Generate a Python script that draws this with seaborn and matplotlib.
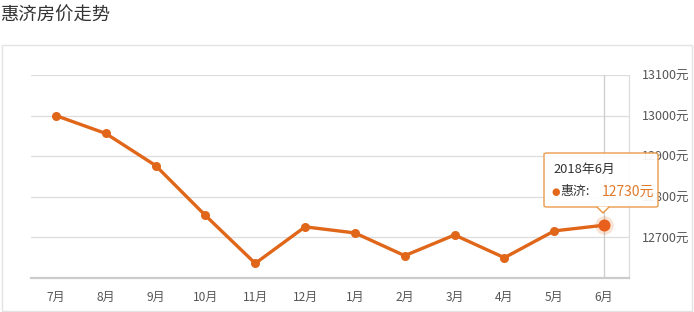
import matplotlib
matplotlib.use("Agg")
import matplotlib.pyplot as plt
import seaborn as sns
import pandas as pd
from matplotlib.patches import Rectangle, FancyBboxPatch, Polygon

months = ["7月", "8月", "9月", "10月", "11月", "12月", "1月", "2月", "3月", "4月", "5月", "6月"]
prices = [13000, 12956, 12877, 12754, 12636, 12726, 12711, 12655, 12706, 12650, 12716, 12730]
yticks = [12700, 12800, 12900, 13000, 13100]
title = "惠济房价走势"
tip_date = "2018年6月"
tip_name = "惠济:"
tip_value = "12730元"

sns.set_style("white")
plt.rcParams['font.family'] = ['Noto Sans CJK SC', 'DejaVu Sans']

W, H = 694, 312
fig = plt.figure(figsize=(W / 100, H / 100), dpi=100)

def fx(px):
    return px / W

def fy(py):
    return 1 - py / H

# outer container
fig.patches.append(Rectangle((fx(2), fy(311)), fx(690), (311 - 45) / H, transform=fig.transFigure,
                             fill=False, edgecolor="#e3e3e3", linewidth=1.0))
fig.text(fx(0), fy(16), title, fontsize=13.2, color="#333333", va="center", ha="left")

ax = fig.add_axes([fx(31), fy(278), fx(629 - 31), (278 - 75) / H])
df = pd.DataFrame({"month": months, "price": prices})
orange = "#E0661A"
sns.lineplot(data=df, x="month", y="price", sort=False, color=orange, linewidth=2.4,
             marker="o", markersize=6.5, markeredgewidth=0, ax=ax, zorder=3)

ax.set_xlim(-0.5, 11.5)
ax.set_ylim(12600, 13100)
ax.set_yticks(yticks)
ax.set_yticklabels([f"{v}元" for v in yticks])
ax.yaxis.tick_right()
ax.grid(axis="y", color="#dddddd", linewidth=0.9)
ax.grid(axis="x", visible=False)
for s in ["left", "top"]:
    ax.spines[s].set_visible(False)
ax.spines["right"].set_color("#dddddd")
ax.spines["right"].set_linewidth(0.9)
ax.spines["bottom"].set_color("#cccccc")
ax.spines["bottom"].set_linewidth(1.6)
ax.tick_params(axis="y", length=0, pad=9, labelsize=9.0, labelcolor="#555555")
ax.tick_params(axis="x", length=4, color="#dddddd", width=0.8, pad=5, labelsize=8.6, labelcolor="#555555")
ax.set_xlabel("")
ax.set_ylabel("")

# crosshair at last point
last = len(months) - 1
ax.axvline(last, color="#cccccc", linewidth=0.9, zorder=1)
# highlighted last point
ax.scatter([last], [prices[last]], s=180, color=orange, alpha=0.18, linewidths=0, zorder=4, clip_on=False)
ax.scatter([last], [prices[last]], s=75, color="#E8601C", linewidths=0, zorder=5, clip_on=False)

# tooltip
tx0, ty0, tx1, ty1 = 544, 153, 658, 207
fig.patches.append(FancyBboxPatch((fx(tx0), fy(ty1)), fx(tx1 - tx0), (ty1 - ty0) / H,
                                  boxstyle="round,pad=0,rounding_size=0.004",
                                  transform=fig.transFigure, facecolor="white", alpha=0.93,
                                  edgecolor="#E8943F", linewidth=1.0, zorder=10))
fig.patches.append(Polygon([(fx(597), fy(ty1 - 0.5)), (fx(609), fy(ty1 - 0.5)), (fx(603), fy(214))],
                           closed=True, transform=fig.transFigure, facecolor="white",
                           edgecolor="none", zorder=11))
fig.lines.append(plt.Line2D([fx(597), fx(603), fx(609)], [fy(ty1), fy(213), fy(ty1)],
                            transform=fig.transFigure, color="#E8943F", linewidth=1.0, zorder=12))
fig.text(fx(553), fy(169), tip_date, fontsize=9.3, color="#333333", va="center", ha="left", zorder=13)
fig.text(fx(551), fy(192), "●", fontsize=7, color="#E3681B", va="center", ha="left", zorder=13,
         family="DejaVu Sans")
fig.text(fx(560), fy(192), tip_name, fontsize=9.3, color="#333333", va="center", ha="left", zorder=13)
fig.text(fx(602), fy(192), tip_value, fontsize=10, color="#E07A2A", va="center", ha="left", zorder=13)

fig.savefig("out.png", dpi=100)
